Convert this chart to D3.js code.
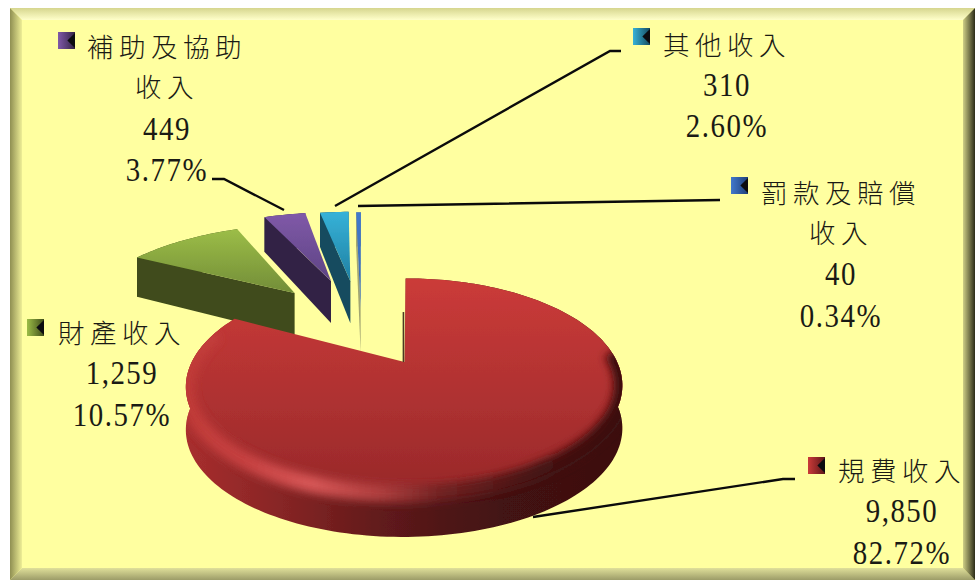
<!DOCTYPE html>
<html lang="zh-Hant">
<head>
<meta charset="UTF-8">
<title>收入</title>
<script src="https://d3js.org/d3.v7.min.js"></script>
<style>
html, body { margin: 0; padding: 0; background: #fff; overflow: hidden; }
svg { display: block; }
text { fill: #1a1a14; }
.cjk { font-family: "Noto Sans CJK TC", sans-serif; font-weight: 300; font-size: 26.5px; letter-spacing: 5.5px; }
.num { font-family: "Liberation Serif", serif; font-size: 34px; letter-spacing: 1.8px; }
</style>
</head>
<body>
<svg id="chart" width="976" height="581"></svg>
<script>
var categories = ["規費收入", "財產收入", "補助及協助收入", "其他收入", "罰款及賠償收入"];
var values = [9850, 1259, 449, 310, 40];

// slice look, same order as categories
var topColors = [["#cb3b39", "#98292a"], ["#9cbd47", "#728d38"], ["#8059a8", "#5d4484"], ["#36b2d8", "#2080a2"], ["#4279cc", "#3768b0"]];
var faceColors = ["#5c1618", "#3f4c1a", "#332345", "#164b5e", "#a3a672"];
var explode = [0.42, 0.564, 0.6, 0.573, 0.2];
var radius = [0.97, 1.1, 1.18, 1.19, 1.55];
var vanishX = [411, 367, 364, 361, 362];
var nudgeX = [0, 5, 2, 0, 0];

// label boxes: key corner, centre x, baselines
var labelPos = [
  { key: [808, 457], cx: 902, ys: [481, 522, 564] },
  { key: [27, 319], cx: 122, ys: [343, 384, 426] },
  { key: [58, 32], cx: 167, ys: [57, 97, 140, 181] },
  { key: [633, 28], cx: 727, ys: [55, 96, 137] },
  { key: [731, 177], cx: 841, ys: [203, 243, 285, 327] }
];
var leaders = [
  [[533, 517], [783, 479], [795, 479]],
  null,
  [[284, 210], [224, 179], [212, 179]],
  [[335, 206], [610, 51], [621, 51]],
  [[358, 206], [480, 204], [720, 200]]
];

var svg = d3.select("#chart");
var defs = svg.append("defs");

function vGrad(id, stops, horizontal) {
  var g = defs.append("linearGradient").attr("id", id)
    .attr("x1", 0).attr("y1", 0).attr("x2", horizontal ? 1 : 0).attr("y2", horizontal ? 0 : 1);
  stops.forEach(function(s, i) {
    var pair = Array.isArray(s);
    g.append("stop").attr("offset", pair ? s[0] : i / (stops.length - 1)).attr("stop-color", pair ? s[1] : s);
  });
  return "url(#" + id + ")";
}

// ---- frame
var L = 10, T = 8, R = 975, B = 580, bev = 12;
svg.append("rect").attr("x", L).attr("y", T).attr("width", R - L).attr("height", B - T).attr("fill", "#ffffa0");
var frame = [
  { id: "fT", pts: [[L, T], [R, T], [R - bev, T + bev], [L + bev, T + bev]], c: [[0, "#d6d68e"], [1, "#ffffca"]], h: false },
  { id: "fB", pts: [[L, B], [R, B], [R - bev, B - bev], [L + bev, B - bev]], c: [[0, "#e0e09a"], [1, "#9c9c68"]], h: false },
  { id: "fL", pts: [[L, T], [L + bev, T + bev], [L + bev, B - bev], [L, B]], c: [[0, "#8f8f52"], [1, "#eeee96"]], h: true },
  { id: "fR", pts: [[R, T], [R - bev, T + bev], [R - bev, B - bev], [R, B]], c: [[0, "#cfcf86"], [1, "#2c2c18"]], h: true }
];
frame.forEach(function(f) {
  svg.append("polygon").attr("points", f.pts.join(" ")).attr("fill", vGrad(f.id, f.c, f.h));
});

// ---- pie geometry, tilted plane with a bit of perspective
var ox = 361, oy = 327, A = 202.5, Bs = 90, k = 0.213, depth = 43;
function proj(X, Y, i) {
  var w = 1 - k * Y, vx = vanishX[i];
  return [vx + A * (X - (vx - ox) / A) / w + nudgeX[i], oy + Bs * Y / w, w];
}
function down(p) {
  return [p[0], p[1] + Math.min(depth, 47 / p[2])];
}
var line = d3.line();
var arcs = d3.pie().sort(null).value(function(d) { return d; })(values);

function geom(a, i) {
  var mid = (a.startAngle + a.endAngle) / 2;
  var ex = Math.sin(mid) * explode[i], ey = -Math.cos(mid) * explode[i];
  var n = Math.max(2, Math.ceil((a.endAngle - a.startAngle) * 40));
  var angles = d3.range(n + 1).map(function(j) { return a.startAngle + (a.endAngle - a.startAngle) * j / n; });
  var rim = angles.map(function(t) {
    return proj(ex + radius[i] * Math.sin(t), ey - radius[i] * Math.cos(t), i);
  });
  return { apex: proj(ex, ey, i), rim: rim, angles: angles };
}
var geoms = arcs.map(geom);

var soft = defs.append("filter").attr("id", "soft");
soft.append("feGaussianBlur").attr("stdDeviation", 0.5);
var blur = defs.append("filter").attr("id", "blur").attr("filterUnits", "userSpaceOnUse")
  .attr("x", 100).attr("y", 200).attr("width", 600).attr("height", 380);
blur.append("feGaussianBlur").attr("stdDeviation", 4.5);

var pie = svg.append("g").attr("filter", "url(#soft)");

function drawSlice(i) {
  var g = geoms[i], s = pie.append("g");
  var wall = g.rim.concat(g.rim.map(down).reverse());
  var wallFill = i == 0
    ? vGrad("wall0", [[0, "#a82e2e"], [0.2, "#8a2626"], [0.42, "#651b1b"], [0.58, "#501618"], [0.72, "#431212"], [1, "#3c1010"]], true)
    : faceColors[i];
  s.append("path").attr("d", line(wall) + "Z").attr("fill", wallFill);
  // the cut face on the start side of the wedge
  if (i > 0) {
    var r0 = g.rim[0];
    s.append("path").attr("d", line([r0, g.apex, down(g.apex), down(r0)]) + "Z").attr("fill", faceColors[i]);
  }
  s.append("path").attr("d", line([g.apex].concat(g.rim)) + "Z").attr("fill", vGrad("top" + i, topColors[i]));
}

[1, 2, 3, 4, 0].forEach(drawSlice);

// red slice: soft bevel on the near part of the rim, clipped to top + wall
var red = geoms[0];
var clip = defs.append("clipPath").attr("id", "redClip");
clip.append("path").attr("d", line([red.apex].concat(red.rim)) + "Z");
clip.append("path").attr("d", line(red.rim.concat(red.rim.map(down).reverse())) + "Z");
var bevel = defs.append("linearGradient").attr("id", "bevel").attr("gradientUnits", "userSpaceOnUse")
  .attr("x1", 188).attr("y1", 0).attr("x2", 626).attr("y2", 0);
[[0, "#c03a38"], [0.12, "#c54040"], [0.28, "#d65656"], [0.44, "#ae3e3e"], [0.58, "#702222"], [0.8, "#451212"], [1, "#3a0f0f"]].forEach(function(s) {
  bevel.append("stop").attr("offset", s[0]).attr("stop-color", s[1]);
});
var nearRim = red.rim.filter(function(p, j) {
  var deg = red.angles[j] * 180 / Math.PI;
  return deg > 84 && deg < 288;
});
pie.append("g").attr("clip-path", "url(#redClip)").append("path")
  .attr("d", line(nearRim)).attr("fill", "none").attr("stroke", "url(#bevel)")
  .attr("stroke-width", 17).attr("filter", "url(#blur)");
// sliver of the inner cut by the 12 o'clock edge
pie.append("path").attr("d", line([[red.apex[0] - 1, red.apex[1]], [red.apex[0] - 1, red.apex[1] - 50]]))
  .attr("stroke", "#4a3a20").attr("stroke-width", 1.6).attr("fill", "none");

// ---- leader lines
leaders.forEach(function(l) {
  if (!l) return;
  svg.append("path").attr("d", line(l)).attr("fill", "none").attr("stroke", "#0b0b0b").attr("stroke-width", 2.4);
});

// ---- labels and keys
var total = d3.sum(values), fmtVal = d3.format(","), fmtPct = d3.format(".2f");
categories.forEach(function(name, i) {
  var pos = labelPos[i];
  var nameLines = name.length > 4 ? [name.slice(0, 5), name.slice(5)] : [name];
  var rows = nameLines.concat([fmtVal(values[i]), fmtPct(values[i] / total * 100) + "%"]);
  rows.forEach(function(t, j) {
    var isName = j < nameLines.length;
    // digits in the reference are narrow and tall
    svg.append("text").attr("text-anchor", "middle")
      .attr("transform", "translate(" + pos.cx + "," + pos.ys[j] + ")" + (isName ? "" : " scale(0.85,1)"))
      .attr("class", isName ? "cjk" : "num").text(t);
  });
  var x = pos.key[0], y = pos.key[1], s = 17;
  svg.append("rect").attr("x", x).attr("y", y).attr("width", s).attr("height", s)
    .attr("fill", vGrad("key" + i, [topColors[i][0], i == 4 ? "#1f3f78" : faceColors[i]], true));
  svg.append("polygon").attr("points", [[x + s, y + 1], [x + s * 0.55, y + s / 2], [x + s, y + s - 1]].join(" ")).attr("fill", "#0c0c10");
});
</script>
</body>
</html>
